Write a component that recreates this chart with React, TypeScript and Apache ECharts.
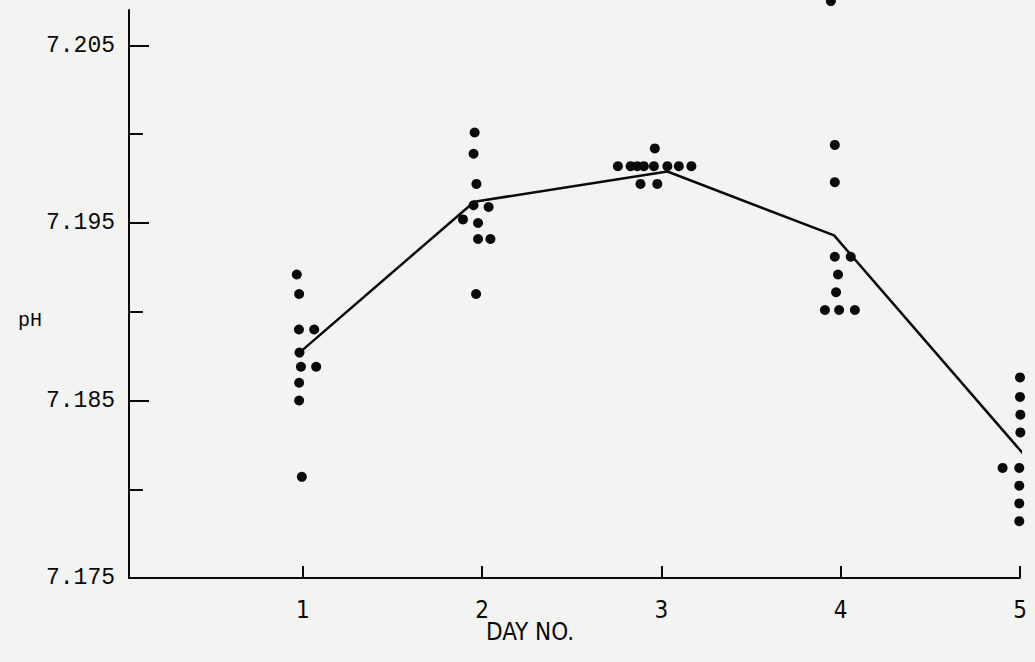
import React, { useEffect, useRef } from "react";
import * as echarts from "echarts";

// Tick values
const yMajorTicks = [7.175, 7.185, 7.195, 7.205];
const yMinorTicks = [7.18, 7.19, 7.2];
const dayTicks = [1, 2, 3, 4, 5];

// Individual measurements (x = day, with small horizontal offsets used in the plot for coinciding values)
const day1X = [0.966, 0.979, 0.978, 1.063, 0.981, 0.989, 1.074, 0.979, 0.979, 0.994];
const day1Ph = [7.1921, 7.191, 7.189, 7.189, 7.1877, 7.1869, 7.1869, 7.186, 7.185, 7.1807];

const day2X = [1.958, 1.952, 1.968, 1.952, 2.036, 1.893, 1.977, 1.977, 2.046, 1.966];
const day2Ph = [7.2001, 7.1989, 7.1972, 7.196, 7.1959, 7.1952, 7.195, 7.1941, 7.1941, 7.191];

const day3X = [2.963, 2.757, 2.828, 2.865, 2.902, 2.958, 3.033, 3.097, 3.167, 2.883, 2.977];
const day3Ph = [7.1992, 7.1982, 7.1982, 7.1982, 7.1982, 7.1982, 7.1982, 7.1982, 7.1982, 7.1972, 7.1972];

const day4X = [3.945, 3.967, 3.967, 3.967, 4.056, 3.985, 3.974, 3.912, 3.991, 4.079];
const day4Ph = [7.2075, 7.1994, 7.1973, 7.1931, 7.1931, 7.1921, 7.1911, 7.1901, 7.1901, 7.1901];

const day5X = [5.0, 5.0, 5.002, 5.002, 4.903, 4.996, 4.996, 4.996, 4.996];
const day5Ph = [7.1863, 7.1852, 7.1842, 7.1832, 7.1812, 7.1812, 7.1802, 7.1792, 7.1782];

// Mean line
const meanX = [0.981, 1.956, 3.033, 3.963, 5.078];
const meanPh = [7.1877, 7.1962, 7.1979, 7.1943, 7.1813];

const INK = "#0a0a0a";
const MONO = "'Liberation Mono', 'DejaVu Sans Mono', monospace";
const NARROW = "'Liberation Sans Narrow', 'DejaVu Sans Condensed', 'Roboto Condensed', sans-serif";

export default function App() {
  const ref = useRef<HTMLDivElement>(null);

  useEffect(() => {
    if (!ref.current) return;
    const chart = echarts.init(ref.current, undefined, { renderer: "svg" });

    const pts: number[][] = [];
    const add = (xs: number[], ys: number[]) => xs.forEach((x, i) => pts.push([x, ys[i]]));
    add(day1X, day1Ph);
    add(day2X, day2Ph);
    add(day3X, day3Ph);
    add(day4X, day4Ph);
    add(day5X, day5Ph);

    chart.setOption({
      animation: false,
      backgroundColor: "#f3f3f1",
      grid: { left: 129, right: 15, top: 10, bottom: 84, containLabel: false },
      xAxis: {
        type: "value",
        min: 0.03,
        max: 5,
        axisLine: { show: true, lineStyle: { color: INK, width: 2 } },
        axisTick: {
          show: true,
          inside: true,
          length: 12,
          customValues: dayTicks,
          lineStyle: { color: INK, width: 2 },
        },
        axisLabel: {
          customValues: dayTicks,
          margin: 20,
          color: INK,
          fontSize: 24,
          fontFamily: NARROW,
        },
        splitLine: { show: false },
      },
      yAxis: [
        {
          type: "value",
          min: 7.175,
          max: 7.207,
          axisLine: { show: true, lineStyle: { color: INK, width: 2 } },
          axisTick: {
            show: true,
            inside: true,
            length: 20,
            customValues: yMajorTicks,
            lineStyle: { color: INK, width: 2 },
          },
          axisLabel: {
            customValues: yMajorTicks,
            formatter: (v: number) => v.toFixed(3),
            margin: 14,
            color: INK,
            fontSize: 23,
            fontFamily: MONO,
          },
          splitLine: { show: false },
        },
        {
          type: "value",
          min: 7.175,
          max: 7.207,
          position: "left",
          axisLine: { show: false },
          axisTick: {
            show: true,
            inside: true,
            length: 14,
            customValues: yMinorTicks,
            lineStyle: { color: INK, width: 2 },
          },
          axisLabel: { show: false },
          splitLine: { show: false },
        },
      ],
      graphic: [
        {
          type: "text",
          left: 18,
          top: 310,
          style: { text: "pH", fill: INK, font: `20px ${MONO}` },
        },
        {
          type: "text",
          x: 530,
          y: 632,
          style: {
            text: "DAY NO.",
            fill: INK,
            font: `24px ${NARROW}`,
            textAlign: "center",
            textVerticalAlign: "middle",
          },
        },
      ],
      series: [
        {
          type: "line",
          data: meanX.map((x, i) => [x, meanPh[i]]),
          showSymbol: false,
          symbol: "none",
          clip: false,
          lineStyle: { color: INK, width: 2.5 },
          z: 2,
        },
        {
          type: "scatter",
          data: pts,
          symbol: "circle",
          symbolSize: 10,
          clip: false,
          itemStyle: { color: INK, opacity: 1 },
          z: 3,
        },
      ],
    });

    return () => chart.dispose();
  }, []);

  return (
    <div
      ref={ref}
      style={{ position: "absolute", left: 0, top: 0, width: 1035, height: 662 }}
    />
  );
}
